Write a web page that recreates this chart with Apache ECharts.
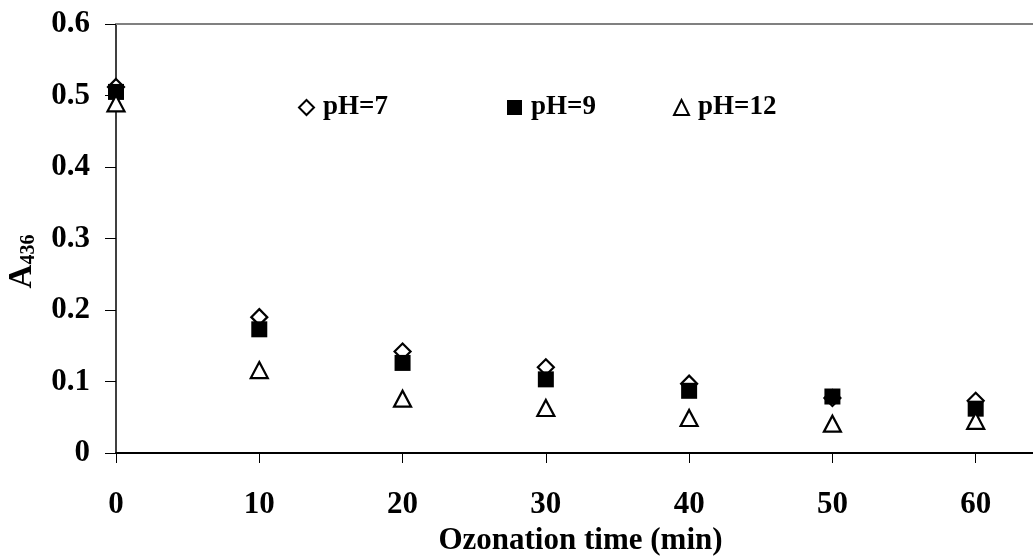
<!DOCTYPE html>
<html>
<head>
<meta charset="utf-8">
<script src="https://cdn.jsdelivr.net/npm/echarts@6/dist/echarts.min.js"></script>
<style>
html,body{margin:0;padding:0;background:#fff;}
#c{width:1033px;height:559px;}
</style>
</head>
<body>
<div id="c"></div>
<script>
const times = [0, 10, 20, 30, 40, 50, 60];
const ph7 = [0.512, 0.190, 0.142, 0.120, 0.097, 0.077, 0.073];
const ph9 = [0.505, 0.173, 0.126, 0.103, 0.087, 0.079, 0.062];
const ph12 = [0.489, 0.116, 0.076, 0.063, 0.049, 0.041, 0.045];
const xTicks = [0, 10, 20, 30, 40, 50, 60];
const seriesNames = ['pH=7', 'pH=9', 'pH=12'];

const FONT = '"Liberation Serif", "Times New Roman", serif';
const pairs = (ys) => times.map((t, i) => [t, ys[i]]);

const chart = echarts.init(document.getElementById('c'), null, {renderer: 'canvas'});
const legendText = {fontFamily: FONT, fontWeight: 'bold', fontSize: 27, color: '#000', padding: [0, 0, 0, 4]};
const legendBase = {top: 94, padding: 0, itemWidth: 15, itemHeight: 15, textStyle: legendText, selectedMode: false};
chart.setOption({
  animation: false,
  backgroundColor: '#fff',
  grid: {left: 116, right: 0, top: 24, bottom: 106, containLabel: false, outerBoundsMode: 'none'},
  legend: [
    Object.assign({data: [seriesNames[0]], left: 298}, legendBase),
    Object.assign({data: [seriesNames[1]], left: 507}, legendBase),
    Object.assign({data: [seriesNames[2]], left: 673}, legendBase)
  ],
  xAxis: [{
    type: 'value', min: 0, max: 64, interval: 10,
    axisLine: {show: true, onZero: false, lineStyle: {color: '#000', width: 2}},
    axisTick: {show: true, length: 10, inside: false, customValues: xTicks, lineStyle: {color: '#000', width: 1}},
    axisLabel: {customValues: xTicks, margin: 36, fontFamily: FONT, fontWeight: 'bold', fontSize: 31, color: '#000'},
    splitLine: {show: false},
    name: 'Ozonation time (min)', nameLocation: 'middle', nameGap: 72,
    nameTextStyle: {fontFamily: FONT, fontWeight: 'bold', fontSize: 31, color: '#000', padding: [0, 0, 0, 12]}
  }, {
    type: 'value', min: 0, max: 64, position: 'top',
    axisLine: {show: true, onZero: false, lineStyle: {color: '#808080', width: 2}},
    axisTick: {show: false}, axisLabel: {show: false}, splitLine: {show: false}
  }],
  yAxis: {
    type: 'value', min: 0, max: 0.6, interval: 0.1,
    axisLine: {show: true, lineStyle: {color: '#000', width: 1.5}},
    axisTick: {show: true, length: 11, lineStyle: {color: '#000', width: 1}},
    axisLabel: {margin: 26, fontFamily: FONT, fontWeight: 'bold', fontSize: 31, color: '#000',
      formatter: v => (Math.round(v * 10) / 10).toString()},
    splitLine: {show: false},
    name: '{a|A}{s|436}', nameLocation: 'middle', nameRotate: 90, nameGap: 77,
    nameTextStyle: {
      padding: [0, 46, 0, 0],
      rich: {
        a: {fontFamily: FONT, fontWeight: 'bold', fontSize: 33, color: '#000', verticalAlign: 'bottom', lineHeight: 33},
        s: {fontFamily: FONT, fontWeight: 'bold', fontSize: 20, color: '#000', verticalAlign: 'bottom', lineHeight: 33}
      }
    }
  },
  series: [
    {name: seriesNames[0], type: 'scatter', data: pairs(ph7), symbol: 'diamond', symbolSize: [16, 16],
      itemStyle: {color: '#fff', borderColor: '#000', borderWidth: 2.2, opacity: 1}},
    {name: seriesNames[1], type: 'scatter', data: pairs(ph9), symbol: 'rect', symbolSize: [16, 16],
      itemStyle: {color: '#000', borderColor: '#000', borderWidth: 0, opacity: 1}},
    {name: seriesNames[2], type: 'scatter', data: pairs(ph12), symbol: 'triangle', symbolSize: [17, 16],
      itemStyle: {color: '#fff', borderColor: '#000', borderWidth: 2.2, opacity: 1}}
  ]
});
</script>
</body>
</html>
